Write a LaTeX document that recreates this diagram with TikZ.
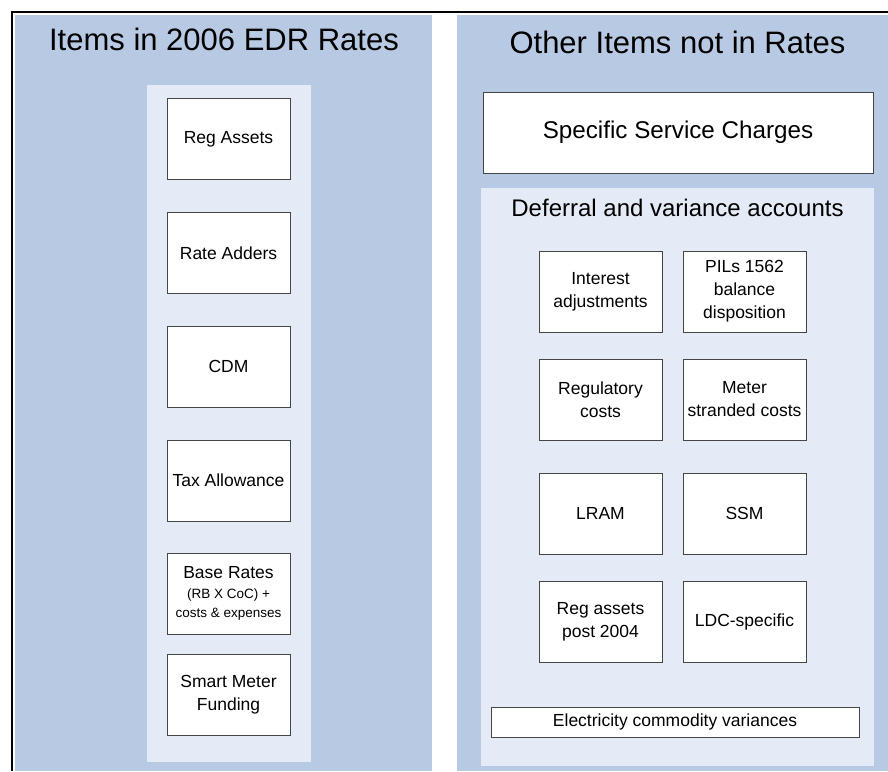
\documentclass[tikz,border=0pt]{standalone}
\usepackage{fontspec}
\setmainfont{Liberation Sans}
\usepackage{xcolor}
\definecolor{panelblue}{RGB}{184,201,227}
\definecolor{panellight}{RGB}{229,235,246}
\definecolor{boxline}{RGB}{70,70,70}

\tikzset{
    itembox/.style={draw=boxline, line width=0.9pt, fill=white, align=center,
        minimum width=123pt, minimum height=81pt, inner sep=2pt,
        font=\fontsize{17.5}{23}\selectfont},
    bigtitle/.style={anchor=base, font=\fontsize{31}{36}\selectfont},
    subtitle/.style={anchor=base, font=\fontsize{24}{28}\selectfont}
}

\begin{document}
\begin{tikzpicture}[x=1pt, y=-1pt]
    \useasboundingbox (0,0) rectangle (888,771);

    % Create panels
    \fill[panelblue] (15,15) rectangle (432,771);
    \fill[panelblue] (457,15) rectangle (888,771);
    \fill[panellight] (147,85) rectangle (311,762);
    \fill[panellight] (481,188) rectangle (874,766);
    \draw[line width=2pt] (12,771) -- (12,12) -- (888,12);

    % Titles
    \node[bigtitle] (lefttitle) at (224,50) {Items in 2006 EDR Rates};
    \node[bigtitle] (righttitle) at (677.5,53) {Other Items not in Rates};
    \node[subtitle] (deftitle) at (677.5,216) {Deferral and variance accounts};

    % Items in rates
    \node[itembox] (regassets) at (228.5,139) {Reg Assets};
    \node[itembox] (adders) at (228.5,253) {Rate Adders};
    \node[itembox] (cdm) at (228.5,366.5) {CDM};
    \node[itembox] (tax) at (228.5,480.5) {Tax Allowance};
    \node[itembox] (base) at (228.5,593.5) {Base Rates\\[-3pt]
        {\fontsize{13.5}{19}\selectfont (RB X CoC) +}\\[-4pt]
        {\fontsize{13.5}{19}\selectfont costs \& expenses}};
    \node[itembox] (smart) at (228.5,695) {Smart Meter\\Funding};

    % Other items
    \node[itembox, minimum width=390pt, font=\fontsize{24.2}{28}\selectfont] (service) at (678,132.5) {Specific Service Charges};
    \node[itembox] (interest) at (600.5,291.5) {Interest\\adjustments};
    \node[itembox] (pils) at (744.5,291.5) {PILs 1562\\balance\\disposition};
    \node[itembox] (regcosts) at (600.5,399.5) {Regulatory\\costs};
    \node[itembox] (meter) at (744.5,399.5) {Meter\\stranded costs};
    \node[itembox] (lram) at (600.5,513.5) {LRAM};
    \node[itembox] (ssm) at (744.5,513.5) {SSM};
    \node[itembox] (post) at (600.5,621.5) {Reg assets\\post 2004};
    \node[itembox] (ldc) at (744.5,621.5) {LDC-specific};
    \node[itembox, minimum width=368pt, minimum height=30pt] (commodity) at (675,722) {Electricity commodity variances};
\end{tikzpicture}
\end{document}
